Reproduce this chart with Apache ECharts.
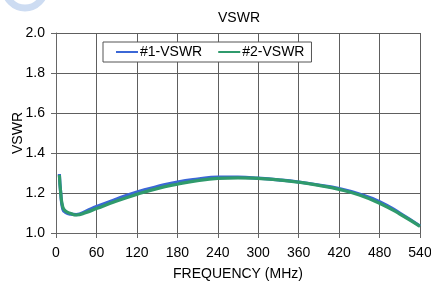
<!DOCTYPE html>
<html>
<head>
<meta charset="utf-8">
<script src="https://cdn.jsdelivr.net/npm/echarts@6/dist/echarts.min.js"></script>
<style>
  html, body { margin: 0; padding: 0; background: #fff; }
  #chart { width: 431px; height: 286px; }
</style>
</head>
<body>
<div id="chart"></div>
<script>
// frequency (MHz) / VSWR
var vswr1 = [
  [5, 1.295], [7, 1.2], [10, 1.12], [14, 1.103], [22, 1.094], [30, 1.092], [45, 1.11],
  [60, 1.132], [90, 1.17], [120, 1.205], [150, 1.232], [180, 1.255], [210, 1.27],
  [240, 1.28], [270, 1.279], [300, 1.274], [330, 1.266], [360, 1.255], [390, 1.24],
  [420, 1.222], [450, 1.195], [480, 1.157], [510, 1.1], [540, 1.035]
];
var vswr2 = [
  [5, 1.29], [7, 1.2], [10, 1.13], [14, 1.11], [22, 1.097], [30, 1.09], [45, 1.103],
  [60, 1.122], [90, 1.16], [120, 1.193], [150, 1.222], [180, 1.244], [210, 1.262],
  [240, 1.273], [270, 1.276], [300, 1.273], [330, 1.266], [360, 1.254], [390, 1.238],
  [420, 1.218], [450, 1.19], [480, 1.149], [510, 1.095], [540, 1.033]
];
var seriesNames = ['#1-VSWR', '#2-VSWR'];

var myChart = echarts.init(document.getElementById('chart'));
var font = 'Liberation Sans, Arial, sans-serif';

myChart.setOption({
  animation: false,
  title: {
    text: 'VSWR',
    left: 213,
    top: 6,
    textStyle: { fontFamily: font, fontSize: 14, fontWeight: 'normal', color: '#000' }
  },
  graphic: [{
    // faint watermark ring top-left
    type: 'circle',
    shape: { cx: 25, cy: -12, r: 20 },
    style: { fill: 'none', stroke: '#cddcf2', lineWidth: 7 }
  }],
  legend: {
    data: seriesNames,
    left: 103,
    top: 42,
    padding: [3, 7, 3, 13],
    itemGap: 16,
    itemWidth: 22,
    itemHeight: 2,
    icon: 'rect',
    borderColor: '#555',
    borderWidth: 1,
    backgroundColor: '#fff',
    textStyle: { fontFamily: font, fontSize: 14, color: '#000', padding: [0, 0, 0, -3] }
  },
  grid: { left: 56, right: 11, top: 33, bottom: 53, outerBoundsMode: 'none', containLabel: false },
  xAxis: {
    type: 'value',
    min: 0, max: 540, interval: 60,
    name: 'FREQUENCY (MHz)',
    nameLocation: 'middle',
    nameGap: 34,
    nameMoveOverlap: false,
    nameTextStyle: { fontFamily: font, fontSize: 14, color: '#000' },
    axisLine: { lineStyle: { color: '#666' } },
    axisTick: { show: true, length: 5, lineStyle: { color: '#666' } },
    axisLabel: { fontFamily: font, fontSize: 14, color: '#000', margin: 13 },
    splitLine: { show: true, lineStyle: { color: '#5e5e5e', width: 1 } }
  },
  yAxis: {
    type: 'value',
    min: 1, max: 2, interval: 0.2,
    name: 'VSWR',
    nameLocation: 'middle',
    nameGap: 31,
    nameMoveOverlap: false,
    nameTextStyle: { fontFamily: font, fontSize: 14, color: '#000' },
    axisLine: { show: true, lineStyle: { color: '#666' } },
    axisTick: { show: true, length: 5, lineStyle: { color: '#666' } },
    axisLabel: {
      fontFamily: font, fontSize: 14, color: '#000', margin: 11,
      formatter: function (v) { return v.toFixed(1); }
    },
    splitLine: { show: true, lineStyle: { color: '#5e5e5e', width: 1 } }
  },
  series: [
    {
      name: seriesNames[0],
      type: 'line',
      smooth: true,
      showSymbol: false,
      data: vswr1,
      itemStyle: { color: '#3b67d6' },
      lineStyle: { color: '#3b67d6', width: 3.2 }
    },
    {
      name: seriesNames[1],
      type: 'line',
      smooth: true,
      showSymbol: false,
      data: vswr2,
      itemStyle: { color: '#2f9a6c' },
      lineStyle: { color: '#2f9a6c', width: 3.2 }
    }
  ]
});
</script>
</body>
</html>
